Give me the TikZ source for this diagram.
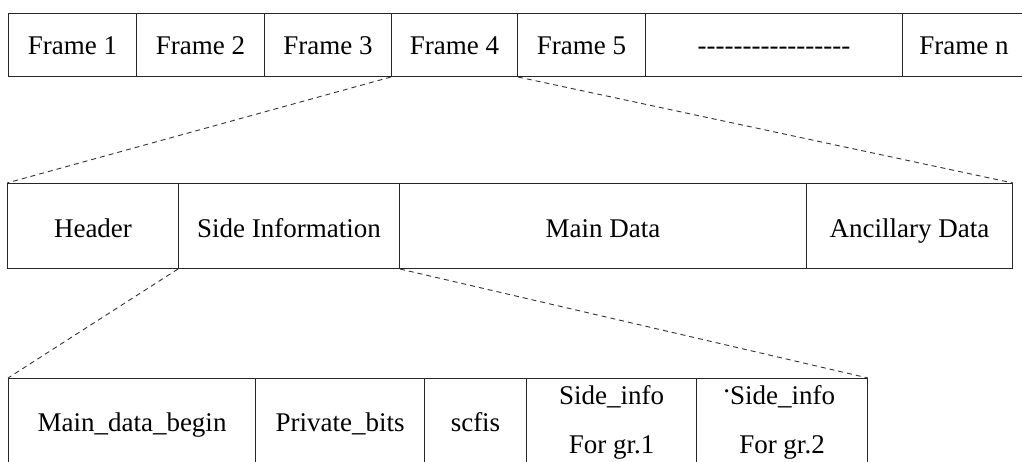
\documentclass[tikz,border=0pt]{standalone}
\usepackage{fontspec}
\setmainfont{Liberation Serif}
\begin{document}
\begin{tikzpicture}[x=1pt,y=-1pt,
  cell/.style={draw=black!85,line width=1pt,anchor=north west,inner sep=0pt,
    font=\fontsize{27}{31}\selectfont,text=black},
  oneline/.style={cell,text height=20pt,text depth=2pt},
  lowline/.style={cell,text height=25pt,text depth=2pt},
  zoomline/.style={draw=black!80,line width=0.9pt,dash pattern=on 5pt off 4pt}]
\useasboundingbox (0,0) rectangle (1022,461);
\clip (0,0) rectangle (1022,461);
% stream of frames
\node[oneline,minimum width=128,minimum height=63] (f1) at (8,13) {Frame 1};
\node[oneline,minimum width=128,minimum height=63] (f2) at (136,13) {Frame 2};
\node[oneline,minimum width=127,minimum height=63] (f3) at (264,13) {Frame 3};
\node[oneline,minimum width=126,minimum height=63] (f4) at (391,13) {Frame 4};
\node[oneline,minimum width=128,minimum height=63] (f5) at (517,13) {Frame 5};
\node[oneline,minimum width=257,minimum height=63] (fd) at (645,13)
  {-{}-{}-{}-{}-{}-{}-{}-{}-{}-{}-{}-{}-{}-{}-{}-{}-{}};
\node[oneline,minimum width=123,minimum height=63] (fn) at (902,13) {Frame n};
% one frame
\node[lowline,minimum width=171,minimum height=85] (hd) at (7,183) {Header};
\node[lowline,minimum width=221,minimum height=85] (si) at (178,183) {Side Information};
\node[lowline,minimum width=407,minimum height=85] (md) at (399,183) {Main Data};
\node[lowline,minimum width=206,minimum height=85] (ad) at (806,183) {Ancillary Data};
% side information fields
\node[oneline,minimum width=247,minimum height=88] (mb) at (8,378) {Main\_data\_begin};
\node[oneline,minimum width=169,minimum height=88] (pb) at (255,378) {Private\_bits};
\node[oneline,minimum width=102,minimum height=88] (sc) at (424,378) {scfis};
\node[cell,minimum width=170,minimum height=88,align=center] (g1) at (526,378)
  {Side\_info\\[18pt]For gr.1};
\node[cell,minimum width=171,minimum height=88,align=center] (g2) at (696,378)
  {\raisebox{0.45em}{\kern-0.2em.}Side\_info\\[18pt]For gr.2};
% zoom lines
\draw[zoomline] (f4.south west) -- (hd.north west);
\draw[zoomline] (f4.south east) -- (ad.north east);
\draw[zoomline] (si.south west) -- (mb.north west);
\draw[zoomline] (si.south east) -- (g2.north east);
\end{tikzpicture}
\end{document}
